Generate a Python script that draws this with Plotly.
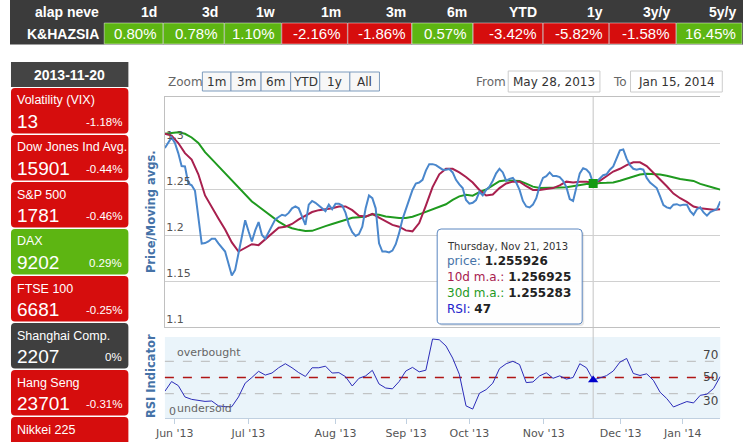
import plotly.graph_objects as go

W, H = 743, 442

# ---------------- data ----------------
perf_periods = ["1d", "3d", "1w", "1m", "3m", "6m", "YTD", "1y", "3y/y", "5y/y"]
perf_values = [0.80, 0.78, 1.10, -2.16, -1.86, 0.57, -3.42, -5.82, -1.58, 16.45]
fund_name = "K&HAZSIA"
header_name = "alap neve"

snapshot_date = "2013-11-20"
index_names = ["Volatility (VIX)", "Dow Jones Ind Avg.", "S&P 500", "DAX", "FTSE 100",
               "Shanghai Comp.", "Hang Seng", "Nikkei 225"]
index_levels = [13, 15901, 1781, 9202, 6681, 2207, 23701, None]
index_changes = [-1.18, -0.44, -0.46, 0.29, -0.25, 0.0, -0.31, None]

# daily price, 28 May 2013 .. 15 Jan 2014 (trading days)
price = [1.2946, 1.300, 1.306, 1.300, 1.289, 1.275, 1.2745, 1.256, 1.254, 1.248,
         1.217, 1.1906, 1.1912, 1.193, 1.196, 1.196, 1.191, 1.187, 1.182, 1.169,
         1.156, 1.162, 1.181, 1.198, 1.216, 1.204, 1.193, 1.205, 1.214, 1.200,
         1.196, 1.203, 1.210, 1.217, 1.2196, 1.222, 1.221, 1.224, 1.229, 1.231,
         1.229, 1.219, 1.211, 1.233, 1.237, 1.235, 1.232, 1.228, 1.226, 1.233,
         1.228, 1.234, 1.234, 1.232, 1.224, 1.211, 1.203, 1.199, 1.201, 1.209,
         1.229, 1.243, 1.240, 1.229, 1.191, 1.182, 1.182, 1.181, 1.183, 1.190,
         1.202, 1.217, 1.227, 1.238, 1.249, 1.256, 1.257, 1.260, 1.270, 1.277,
         1.277, 1.276, 1.273, 1.271, 1.271, 1.2717, 1.268, 1.260, 1.255, 1.251,
         1.238, 1.234, 1.235, 1.238, 1.247, 1.243, 1.249, 1.2525, 1.259, 1.267,
         1.272, 1.268, 1.259, 1.261, 1.262, 1.257, 1.249, 1.237, 1.231, 1.230,
         1.233, 1.240, 1.253, 1.262, 1.264, 1.268, 1.264, 1.264, 1.263, 1.259,
         1.252, 1.239, 1.237, 1.251, 1.267, 1.2725, 1.271, 1.267, 1.2559, 1.258,
         1.262, 1.265, 1.266, 1.271, 1.2745, 1.283, 1.292, 1.293, 1.283, 1.276,
         1.272, 1.271, 1.272, 1.271, 1.262, 1.257, 1.254, 1.251, 1.242, 1.2325,
         1.230, 1.229, 1.233, 1.2335, 1.232, 1.233, 1.233, 1.226, 1.222, 1.228,
         1.230, 1.2245, 1.221, 1.225, 1.2265, 1.228, 1.2366]
price_days = list(range(len(price)))  # trading-day number

# moving averages and RSI, read every second trading day
ma10 = [1.310, 1.308, 1.300, 1.289, 1.282, 1.266, 1.243, 1.230, 1.218, 1.206,
        1.192, 1.182, 1.186, 1.190, 1.189, 1.195, 1.201, 1.208, 1.209, 1.212,
        1.217, 1.221, 1.225, 1.227, 1.228, 1.229, 1.231, 1.231, 1.227, 1.221,
        1.220, 1.223, 1.219, 1.215, 1.211, 1.209, 1.205, 1.204, 1.213, 1.232,
        1.252, 1.266, 1.272, 1.272, 1.268, 1.263, 1.257, 1.249, 1.243, 1.244,
        1.251, 1.256, 1.258, 1.258, 1.253, 1.249, 1.249, 1.250, 1.251, 1.254,
        1.258, 1.257, 1.258, 1.258, 1.2569, 1.259, 1.264, 1.269, 1.272, 1.276,
        1.279, 1.279, 1.275, 1.268, 1.261, 1.253, 1.245, 1.240, 1.236, 1.231,
        1.229, 1.228, 1.2275, 1.228]
ma30 = [1.310, 1.311, 1.3116, 1.310, 1.306, 1.300, 1.290, 1.2825, 1.275, 1.267,
        1.2597, 1.2522, 1.2445, 1.2364, 1.231, 1.2253, 1.220, 1.2146, 1.2102, 1.2073,
        1.2056, 1.2043, 1.2045, 1.2074, 1.2097, 1.2120, 1.2142, 1.2171, 1.2188, 1.2194,
        1.2200, 1.2225, 1.2220, 1.2202, 1.2190, 1.2185, 1.2186, 1.2198, 1.2224, 1.2252,
        1.2281, 1.2306, 1.2334, 1.2382, 1.2420, 1.2438, 1.2428, 1.2465, 1.2494, 1.2539,
        1.2584, 1.2594, 1.2594, 1.2586, 1.2558, 1.2526, 1.2511, 1.2511, 1.2511, 1.2515,
        1.2520, 1.2529, 1.2540, 1.2554, 1.2553, 1.2565, 1.2567, 1.2571, 1.2590, 1.2610,
        1.2636, 1.2657, 1.2666, 1.2663, 1.2657, 1.2643, 1.2622, 1.2608, 1.2599, 1.2588,
        1.2556, 1.2532, 1.2514, 1.2493]
rsi = [33, 45, 40, 26, 23, 22, 20.5, 21, 15, 14,
       14, 26, 43, 50, 57.6, 53, 55.5, 62, 67, 62,
       56, 51.3, 62, 62, 64, 55.5, 56, 51, 39.5, 49,
       52, 58.8, 42, 37, 36, 45, 58, 62.5, 57, 59,
       97.5, 96.6, 89, 74, 54, 15, 11, 30.5, 35, 43,
       61, 67, 70, 66, 43.7, 44.5, 52, 55.8, 49, 52,
       48, 50, 67, 62, 47, 49.5, 52.3, 58, 69, 73.5,
       55, 52.5, 54.5, 46.5, 31.8, 24, 13.6, 17, 20.3, 18.6,
       28, 29.4, 36.5, 51.3]
day_idx = list(range(0, 2 * len(ma10), 2))  # trading-day number

month_labels = ["Jun '13", "Jul '13", "Aug '13", "Sep '13", "Oct '13", "Nov '13", "Dec '13", "Jan '14"]
month_start_idx = [2.95, 24.97, 51.0, 72.1, 91.0, 113.2, 136.2, 154.8]

hover_idx = 128
hover_date = "Thursday, Nov 21, 2013"
hover_price, hover_ma10, hover_ma30, hover_rsi = 1.255926, 1.256925, 1.255283, 47

zoom_buttons = ["1m", "3m", "6m", "YTD", "1y", "All"]
range_from, range_to = "May 28, 2013", "Jan 15, 2014"

# ---------------- helpers ----------------
def px(x):
    return x / W


def py(y):
    return 1 - y / H


def rrect(x0, y0, x1, y1, r, fill, line_color=None, line_width=0):
    def p(x, y):
        return f"{px(x):.6f},{py(y):.6f}"
    path = (f"M {p(x0 + r, y0)} L {p(x1 - r, y0)} Q {p(x1, y0)} {p(x1, y0 + r)} "
            f"L {p(x1, y1 - r)} Q {p(x1, y1)} {p(x1 - r, y1)} "
            f"L {p(x0 + r, y1)} Q {p(x0, y1)} {p(x0, y1 - r)} "
            f"L {p(x0, y0 + r)} Q {p(x0, y0)} {p(x0 + r, y0)} Z")
    return dict(type="path", path=path, xref="paper", yref="paper", fillcolor=fill,
                line=dict(color=line_color or fill, width=line_width), layer="below")


def rect(x0, y0, x1, y1, fill, line_color=None, line_width=0):
    return dict(type="rect", xref="paper", yref="paper", x0=px(x0), x1=px(x1), y0=py(y1), y1=py(y0),
                fillcolor=fill, line=dict(color=line_color or fill, width=line_width), layer="below")


def text(x, y, s, size=12, color="#333", anchor="left", family="DejaVu Sans", **kw):
    return dict(x=px(x), y=py(y), xref="paper", yref="paper", text=s, showarrow=False,
                xanchor=anchor, yanchor="middle", font=dict(size=size, color=color, family=family), **kw)


RED, GREEN, GRAY = "#d60d0d", "#5db512", "#3f3f3f"
BLUE_LINE, RED_LINE, GREEN_LINE = "#4a87cc", "#a8204e", "#1f9a1f"
AXIS_BLUE = "#4572A7"

shapes, annotations = [], []

# ---------------- top performance table ----------------
shapes.append(rect(0, 0, W, 44.5, "#3b3b3b"))
col_edges = [95, 155, 217, 275, 342, 407, 469, 540, 607, 675, 742]
narrow = "Liberation Sans Narrow, Arial Narrow, Liberation Sans"
annotations.append(text(92, 12, f"<b>{header_name}</b>", 14, "white", "right", narrow))
annotations.append(text(92, 34, f"<b>{fund_name}</b>", 14, "white", "right", narrow))
for i, (lab, v) in enumerate(zip(perf_periods, perf_values)):
    x0, x1 = col_edges[i], col_edges[i + 1]
    shapes.append(rect(x0 + 0.5, 23, x1, 44, GREEN if v >= 0 else RED, "rgba(255,255,255,0.45)", 1))
    annotations.append(text(x1 - 4, 12, f"<b>{lab}</b>", 14, "white", "right", narrow))
    annotations.append(text(x1 - 4, 34, f"{v:.2f}%", 15, "white", "right", narrow))

# ---------------- left market panel ----------------
shapes.append(rect(1, 62, 120, 87, "#444444"))
annotations.append(text(60.5, 74.5, f"<b>{snapshot_date}</b>", 14, "white", "center", "Liberation Sans"))
for i, (nm, lv, ch) in enumerate(zip(index_names, index_levels, index_changes)):
    top = 88 + i * 47
    if ch is None or ch < 0:
        col = RED
    elif ch > 0:
        col = GREEN
    else:
        col = GRAY
    shapes.append(rrect(1, top, 120, top + 45.5, 4, col))
    annotations.append(text(5, top + 12.5, nm, 12.5, "white", "left", "Liberation Sans"))
    if lv is not None:
        annotations.append(text(5, top + 33, str(lv), 19, "white", "left", "Liberation Sans"))
    if ch is not None:
        s = "0%" if ch == 0 else f"{ch:.2f}%"
        annotations.append(text(116, top + 34, s, 11.5, "white", "right", "Liberation Sans"))

# ---------------- range selector / input boxes ----------------
annotations.append(text(158, 81.5, "Zoom", 12, "#666", "left"))
bx = [195, 224, 254.5, 284.5, 314, 344.5, 374.5]
for i, b in enumerate(zoom_buttons):
    shapes.append(rect(bx[i], 72, bx[i + 1], 91, "#f7f7f7", "#7d9bbd", 1))
    annotations.append(text((bx[i] + bx[i + 1]) / 2, 81.5, b, 12, "#333", "center"))
annotations.append(text(470, 81.5, "From", 12, "#666", "left"))
shapes.append(rect(505, 71, 598, 92, "white", "#cccccc", 1))
annotations.append(text(551.5, 81.5, range_from, 12, "#333", "center"))
annotations.append(text(609, 81.5, "To", 12, "#666", "left"))
shapes.append(rect(629, 71, 722, 92, "white", "#cccccc", 1))
annotations.append(text(675.5, 81.5, range_to, 12, "#333", "center"))

# ---------------- charts ----------------
X0, X1 = 157, 720
main_dom = [py(327), py(97)]
rsi_dom = [py(418), py(337)]

fig = go.Figure()
fig.add_trace(go.Scatter(x=day_idx, y=ma30, mode="lines", line=dict(color=GREEN_LINE, width=2),
                         xaxis="x", yaxis="y", hoverinfo="skip"))
fig.add_trace(go.Scatter(x=day_idx, y=ma10, mode="lines", line=dict(color=RED_LINE, width=2),
                         xaxis="x", yaxis="y", hoverinfo="skip"))
fig.add_trace(go.Scatter(x=price_days, y=price, mode="lines", line=dict(color=BLUE_LINE, width=2),
                         xaxis="x", yaxis="y", hoverinfo="skip"))
fig.add_trace(go.Scatter(x=[hover_idx], y=[hover_price], mode="markers",
                         marker=dict(symbol="square", size=9, color="#129a12"),
                         xaxis="x", yaxis="y", hoverinfo="skip"))
fig.add_trace(go.Scatter(x=day_idx, y=rsi, mode="lines", line=dict(color="#2b2bb8", width=1),
                         xaxis="x2", yaxis="y2", hoverinfo="skip"))
fig.add_trace(go.Scatter(x=[hover_idx], y=[hover_rsi], mode="markers",
                         marker=dict(symbol="triangle-up", size=9, color="#0000cc"),
                         xaxis="x2", yaxis="y2", hoverinfo="skip"))

# RSI background and reference lines
shapes.append(dict(type="rect", xref="x2 domain", yref="y2 domain", x0=0, x1=1, y0=0, y1=1,
                   fillcolor="#eaf4fa", line=dict(width=0), layer="below"))
for lvl in (70, 30):
    shapes.append(dict(type="line", xref="x2 domain", yref="y2", x0=0, x1=1, y0=lvl, y1=lvl,
                       line=dict(color="#b8b8b8", width=1, dash="dash"), layer="below"))
shapes.append(dict(type="line", xref="x2 domain", yref="y2", x0=0, x1=1, y0=50, y1=50,
                   line=dict(color="#b01515", width=1.3, dash="dash"), layer="below"))
# crosshair
shapes.append(dict(type="line", xref="x", yref="paper", x0=hover_idx, x1=hover_idx,
                   y0=rsi_dom[0], y1=main_dom[1], line=dict(color="#c4c4c4", width=1), layer="below"))

# RSI labels
annotations.append(text(167, 352, "overbought", 11, "#666", "left"))
annotations.append(text(167, 408, "undersold", 11, "#666", "left"))
annotations.append(text(159, 411, "0", 11, "#666", "left"))
for lab, yy in (("70", 355), ("50", 377), ("30", 401)):
    annotations.append(text(720, yy, lab, 12, "#444", "right"))

# axis titles
annotations.append(text(143, 212, "<b>Price/Moving avgs.</b>", 11.5, AXIS_BLUE, "center", textangle=-90))
annotations.append(text(143, 376, "<b>RSI Indicator</b>", 11.5, AXIS_BLUE, "center", textangle=-90))

# tooltip
shapes.append(rrect(435, 231, 582, 326, 4, "rgba(120,120,120,0.18)"))
shapes.append(rrect(433, 229, 580, 324, 4, "rgba(255,255,255,0.96)", "#5a86c0", 1))
for shp in shapes[-2:]:
    shp["layer"] = "above"
annotations.append(text(441, 246, hover_date, 10, "#333", "left"))
annotations.append(text(441, 261, f"<span style='color:{AXIS_BLUE}'>price: </span><b>{hover_price:.6f}</b>", 12, "#222", "left"))
annotations.append(text(441, 277, f"<span style='color:{RED_LINE}'>10d m.a.: </span><b>{hover_ma10:.6f}</b>", 12, "#222", "left"))
annotations.append(text(441, 293, f"<span style='color:{GREEN_LINE}'>30d m.a.: </span><b>{hover_ma30:.6f}</b>", 12, "#222", "left"))
annotations.append(text(441, 309, f"<span style='color:#2222cc'>RSI: </span><b>{hover_rsi}</b>", 12, "#222", "left"))

xr = [0, price_days[-1]]
fig.update_layout(
    width=W, height=H, margin=dict(l=0, r=0, t=0, b=0),
    paper_bgcolor="white", plot_bgcolor="rgba(0,0,0,0)", showlegend=False,
    font=dict(family="DejaVu Sans", size=11, color="#555"),
    xaxis=dict(domain=[px(X0), px(X1)], range=xr, anchor="y", showticklabels=False, showgrid=False,
               zeroline=False, showline=True, mirror=True, linecolor="#c0c0c0", linewidth=1, ticks=""),
    yaxis=dict(domain=main_dom, range=[1.1, 1.35], anchor="x", tickvals=[1.1, 1.15, 1.2, 1.25, 1.3],
               ticktext=["1.1", "1.15", "1.2", "1.25", "1.3"], ticklabelposition="inside top",
               tickfont=dict(size=11, color="#555"), showgrid=True, gridcolor="#d0d0d0", zeroline=False,
               showline=True, linecolor="#c0c0c0", ticks=""),
    xaxis2=dict(domain=[px(X0), px(X1)], range=xr, anchor="y2", tickvals=month_start_idx,
                ticktext=month_labels, ticks="outside", ticklen=5, tickcolor="#c0d0e0",
                showgrid=False, zeroline=False, showline=True, linecolor="#c0d0e0",
                tickfont=dict(size=11, color="#555")),
    yaxis2=dict(domain=rsi_dom, range=[0, 100], anchor="x2", showticklabels=False, showgrid=False,
                zeroline=False, ticks=""),
    shapes=shapes, annotations=annotations,
)

fig.write_html("out.html")
